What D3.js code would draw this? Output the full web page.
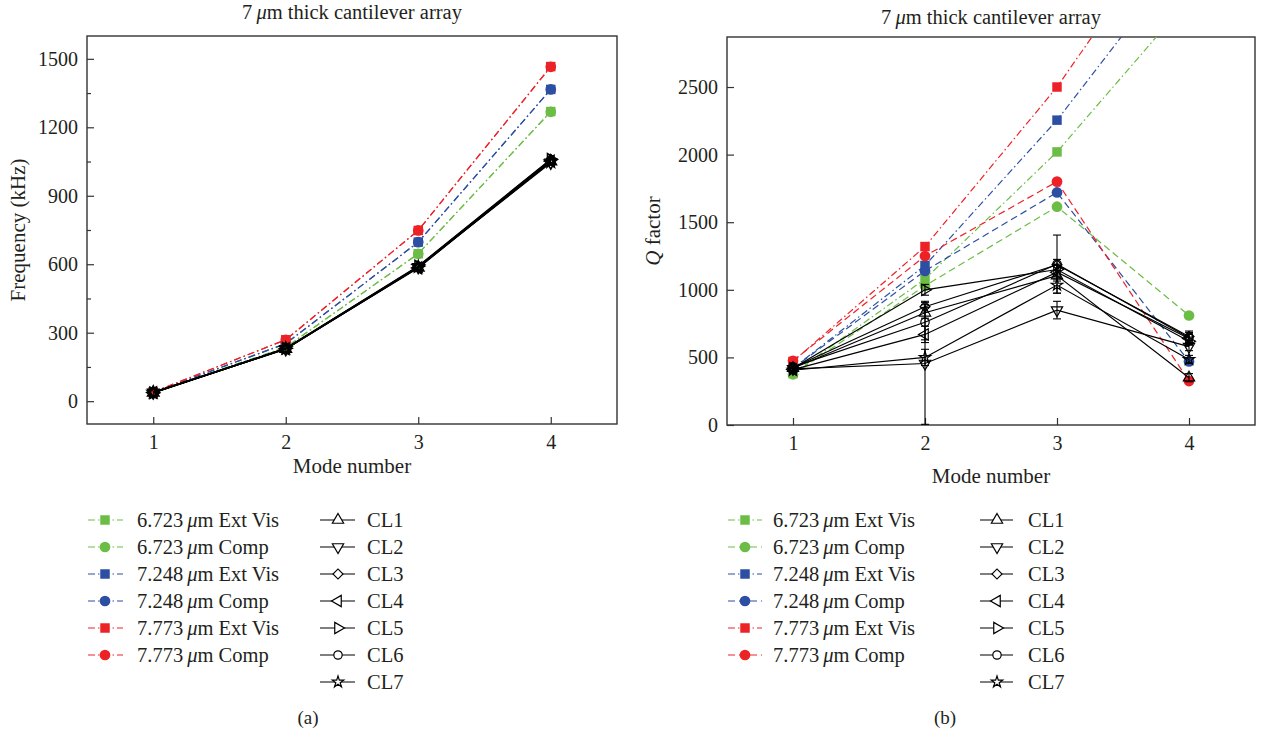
<!DOCTYPE html>
<html>
<head>
<meta charset="utf-8">
<script src="https://cdn.jsdelivr.net/npm/d3@7"></script>
<style>
body { margin: 0; background: #fff; }
text { font-family: "Liberation Serif", "Times New Roman", serif; fill: #231f20; }
</style>
</head>
<body>
<svg id="fig" width="1264" height="738"></svg>
<script>
// mode numbers (x categories)
var modes = [1, 2, 3, 4];
var freqTicks = [0, 300, 600, 900, 1200, 1500];
var freqMinor = [150, 450, 750, 1050, 1350];
var qTicks = [0, 500, 1000, 1500, 2000, 2500];

// (a) frequency, kHz
var freq6723Ext = [38, 236, 646, 1269];
var freq6723Comp = [38, 236, 646, 1268];
var freq7248Ext = [39, 252, 697, 1366];
var freq7248Comp = [39, 252, 697, 1366];
var freq7773Ext = [40, 269, 748, 1466];
var freq7773Comp = [40, 269, 748, 1465];
var freqCL1 = [37, 229, 585, 1050];
var freqCL2 = [38, 228, 588, 1045];
var freqCL3 = [36, 231, 590, 1058];
var freqCL4 = [38, 230, 584, 1052];
var freqCL5 = [37, 232, 592, 1060];
var freqCL6 = [39, 229, 587, 1055];
var freqCL7 = [38, 230, 589, 1048];

// (b) Q factor
var q6723Ext = [380, 1080, 2020, 3150];
var q6723Comp = [375, 1030, 1615, 810];
var q7248Ext = [420, 1180, 2255, 3520];
var q7248Comp = [420, 1140, 1720, 470];
var q7773Ext = [470, 1320, 2500, 3900];
var q7773Comp = [475, 1250, 1800, 325];
var qCL1 = [420, 830, 1105, 350];
var qCL2 = [415, 455, 850, 580];
var qCL3 = [425, 875, 1185, 655];
var qCL4 = [410, 670, 1130, 640];
var qCL5 = [420, 1000, 1150, 620];
var qCL6 = [430, 760, 1190, 645];
var qCL7 = [405, 500, 1035, 485];
var qErrCL1 = [20, 40, 40, 30];
var qErrCL2 = [20, 450, 65, 30];
var qErrCL3 = [20, 40, 40, 30];
var qErrCL4 = [20, 60, 50, 30];
var qErrCL5 = [20, 40, 40, 30];
var qErrCL6 = [25, 130, 215, 50];
var qErrCL7 = [20, 60, 60, 30];

var clNames = ['CL1', 'CL2', 'CL3', 'CL4', 'CL5', 'CL6', 'CL7'];
var clShapes = ['up', 'down', 'diamond', 'left', 'right', 'circle', 'star'];

var green = '#6cbd45', blue = '#2c4fa3', red = '#ed2227';
var dashDot = '7,3,1.5,3', dashed = '7,4';

var svg = d3.select('#fig');

function symbolPath(shape, size) {
  var t = d3.symbolTriangle;
  if (shape == 'circle') t = d3.symbolCircle;
  if (shape == 'square' || shape == 'diamond') t = d3.symbolSquare;
  if (shape == 'star') t = d3.symbolStar;
  return d3.symbol().type(t).size(size)();
}
function symbolRot(shape) {
  return {down: 180, left: -90, right: 90, diamond: 45}[shape] || 0;
}
function drawMarker(g, shape, cx, cy, opt) {
  var size = opt.size || (shape == 'star' ? 40 : shape == 'diamond' ? 50 : shape == 'circle' ? 55 : 55);
  g.append('path')
    .attr('d', symbolPath(shape, size))
    .attr('transform', 'translate(' + cx + ',' + cy + ') rotate(' + symbolRot(shape) + ')')
    .attr('fill', opt.fill || 'none')
    .attr('stroke', opt.stroke || 'none')
    .attr('stroke-width', opt.sw || 1.2);
}

function muText(sel, before, after) {
  sel.append('tspan').text(before);
  sel.append('tspan').attr('font-style', 'italic').text('\u03bc');
  sel.append('tspan').text(after);
}

function panel(o) {
  var g = svg.append('g');
  var x = d3.scaleLinear().domain([0.5, 4.5]).range([o.left, o.right]);
  var y = d3.scaleLinear().domain(o.yDomain).range([o.bottom, o.top]);
  var clipId = 'clip' + o.id;
  svg.append('clipPath').attr('id', clipId).append('rect')
    .attr('x', o.left).attr('y', o.top)
    .attr('width', o.right - o.left).attr('height', o.bottom - o.top);

  g.append('g').attr('transform', 'translate(0,' + o.bottom + ')')
    .call(d3.axisBottom(x).tickValues(modes).tickSize(-7).tickPadding(11).tickFormat(d3.format('d')));
  g.append('g').attr('transform', 'translate(' + o.left + ',0)')
    .call(d3.axisLeft(y).tickValues(o.ticks).tickSize(-7).tickPadding(9).tickFormat(d3.format('d')));
  if (o.minor) {
    g.append('g').attr('transform', 'translate(' + o.left + ',0)')
      .call(d3.axisLeft(y).tickValues(o.minor).tickSize(-4).tickFormat(''));
  }
  g.selectAll('.domain').remove();
  g.selectAll('.tick line').attr('stroke', '#333').attr('stroke-width', 1.2);
  g.selectAll('.tick text').attr('font-size', 20).attr('font-family', '"Liberation Serif", serif').attr('fill', '#231f20');

  g.append('rect')
    .attr('x', o.left).attr('y', o.top)
    .attr('width', o.right - o.left).attr('height', o.bottom - o.top)
    .attr('fill', 'none').attr('stroke', '#333').attr('stroke-width', 1.4);

  var cx = (o.left + o.right) / 2;
  var title = g.append('text').attr('x', cx).attr('y', o.titleY)
    .attr('text-anchor', 'middle').attr('font-size', 20.5);
  muText(title, '7\u2009', 'm thick cantilever array');

  g.append('text').attr('x', cx).attr('y', o.xLabelY)
    .attr('text-anchor', 'middle').attr('font-size', 21).text('Mode number');

  var yl = g.append('text')
    .attr('transform', 'translate(' + o.yLabelX + ',' + ((o.top + o.bottom) / 2) + ') rotate(-90)')
    .attr('text-anchor', 'middle').attr('font-size', 21);
  if (o.id == 'b') {
    yl.append('tspan').attr('font-style', 'italic').text('Q');
    yl.append('tspan').text(' factor');
  } else {
    yl.text('Frequency (kHz)');
  }

  var line = d3.line().x(function(d, i) { return x(modes[i]); }).y(function(d) { return y(d); });
  var plot = g.append('g').attr('clip-path', 'url(#' + clipId + ')');

  // coloured series
  o.colored.forEach(function(s) {
    plot.append('path').attr('d', line(s.values))
      .attr('fill', 'none').attr('stroke', s.color).attr('stroke-width', 1.2)
      .attr('stroke-dasharray', s.dash);
  });
  o.colored.forEach(function(s) {
    s.values.forEach(function(v, i) {
      drawMarker(plot, s.shape, x(modes[i]), y(v), {fill: s.color, size: 90});
    });
  });

  // CL series
  o.cl.forEach(function(s) {
    plot.append('path').attr('d', line(s.values))
      .attr('fill', 'none').attr('stroke', '#000').attr('stroke-width', o.clWidth);
  });
  o.cl.forEach(function(s, k) {
    s.values.forEach(function(v, i) {
      var px = x(modes[i]);
      if (s.err) {
        var e = s.err[i];
        plot.append('line').attr('x1', px).attr('x2', px)
          .attr('y1', y(v - e)).attr('y2', y(v + e))
          .attr('stroke', '#000').attr('stroke-width', 1.1);
        [v - e, v + e].forEach(function(c) {
          plot.append('line').attr('x1', px - 4).attr('x2', px + 4)
            .attr('y1', y(c)).attr('y2', y(c))
            .attr('stroke', '#000').attr('stroke-width', 1.1);
        });
      }
      drawMarker(plot, clShapes[k], px, y(v), {stroke: '#000', sw: o.markerWidth});
    });
  });

  // legend
  var lg = g.append('g');
  o.colored.forEach(function(s, k) {
    var ly = o.legendY + k * 27;
    lg.append('line').attr('x1', o.leg1[0]).attr('x2', o.leg1[2])
      .attr('y1', ly).attr('y2', ly)
      .attr('stroke', s.color).attr('stroke-width', 1.2).attr('stroke-dasharray', s.dash);
    drawMarker(lg, s.shape, o.leg1[1], ly, {fill: s.color, size: 90});
    var t = lg.append('text').attr('x', o.leg1[3]).attr('y', ly + 7).attr('font-size', 20.5);
    muText(t, s.thick + '\u2009', 'm ' + s.kind);
  });
  clNames.forEach(function(name, k) {
    var ly = o.legendY + k * 27;
    lg.append('line').attr('x1', o.leg2[0]).attr('x2', o.leg2[2])
      .attr('y1', ly).attr('y2', ly).attr('stroke', '#000').attr('stroke-width', 1.2);
    drawMarker(lg, clShapes[k], o.leg2[1], ly, {stroke: '#000', fill: '#fff', sw: 1.2});
    lg.append('text').attr('x', o.leg2[3]).attr('y', ly + 7).attr('font-size', 20.5).text(name);
  });

  g.append('text').attr('x', o.captionX).attr('y', 724)
    .attr('text-anchor', 'middle').attr('font-size', 19).text(o.caption);
}

function coloredSeries(v) {
  return [
    {values: v[0], color: green, shape: 'square', dash: dashDot, thick: '6.723', kind: 'Ext Vis'},
    {values: v[1], color: green, shape: 'circle', dash: v[6], thick: '6.723', kind: 'Comp'},
    {values: v[2], color: blue, shape: 'square', dash: dashDot, thick: '7.248', kind: 'Ext Vis'},
    {values: v[3], color: blue, shape: 'circle', dash: v[6], thick: '7.248', kind: 'Comp'},
    {values: v[4], color: red, shape: 'square', dash: dashDot, thick: '7.773', kind: 'Ext Vis'},
    {values: v[5], color: red, shape: 'circle', dash: v[6], thick: '7.773', kind: 'Comp'}
  ];
}

panel({
  id: 'a', left: 87, right: 617, top: 36, bottom: 424,
  yDomain: [-100, 1600], ticks: freqTicks, minor: freqMinor,
  titleY: 19, xLabelY: 473, yLabelX: 25,
  colored: coloredSeries([freq6723Ext, freq6723Comp, freq7248Ext, freq7248Comp, freq7773Ext, freq7773Comp, dashDot]),
  cl: [freqCL1, freqCL2, freqCL3, freqCL4, freqCL5, freqCL6, freqCL7].map(function(v) { return {values: v}; }),
  clWidth: 1.4, markerWidth: 1.6,
  legendY: 520, leg1: [88, 105, 123, 137], leg2: [320, 338, 355, 367],
  caption: '(a)', captionX: 308
});

panel({
  id: 'b', left: 727, right: 1255, top: 37, bottom: 425,
  yDomain: [0, 2870], ticks: qTicks,
  titleY: 24, xLabelY: 483, yLabelX: 660,
  colored: coloredSeries([q6723Ext, q6723Comp, q7248Ext, q7248Comp, q7773Ext, q7773Comp, dashed]),
  cl: [
    {values: qCL1, err: qErrCL1}, {values: qCL2, err: qErrCL2}, {values: qCL3, err: qErrCL3},
    {values: qCL4, err: qErrCL4}, {values: qCL5, err: qErrCL5}, {values: qCL6, err: qErrCL6},
    {values: qCL7, err: qErrCL7}
  ],
  clWidth: 1.2, markerWidth: 1.2,
  legendY: 520, leg1: [728, 745, 762, 773], leg2: [980, 997, 1013, 1028],
  caption: '(b)', captionX: 945
});
</script>
</body>
</html>
